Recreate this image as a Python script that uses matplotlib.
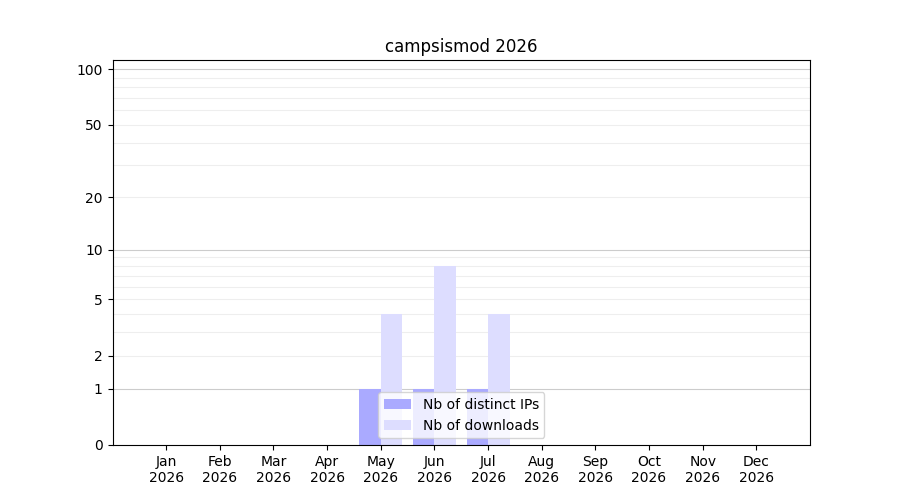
import matplotlib
matplotlib.use("Agg")
import matplotlib.pyplot as plt
import numpy as np

months = ["Jan\n2026", "Feb\n2026", "Mar\n2026", "Apr\n2026", "May\n2026", "Jun\n2026",
          "Jul\n2026", "Aug\n2026", "Sep\n2026", "Oct\n2026", "Nov\n2026", "Dec\n2026"]
distinct_ips = [0, 0, 0, 0, 1, 1, 1, 0, 0, 0, 0, 0]
downloads = [0, 0, 0, 0, 4, 8, 4, 0, 0, 0, 0, 0]
ytick_vals = [0, 1, 2, 5, 10, 20, 50, 100]

fig, ax = plt.subplots(figsize=(9, 5), dpi=100)

fwd = lambda v: np.log10(1 + np.maximum(v, 0))
inv = lambda v: 10 ** v - 1
ax.set_yscale("function", functions=(fwd, inv))

x = np.arange(1, len(months) + 1)
ax.bar(x - 0.2, distinct_ips, width=0.4, color="#aaaaff", label="Nb of distinct IPs", zorder=2)
ax.bar(x + 0.2, downloads, width=0.4, color="#ddddff", label="Nb of downloads", zorder=2)

for v in [3, 4, 6, 7, 8, 9, 2, 5, 20, 30, 40, 50, 60, 70, 80, 90]:
    ax.axhline(v, color="#eeeeee", linewidth=0.8, zorder=0)
for v in [1, 10, 100]:
    ax.axhline(v, color="#cccccc", linewidth=0.8, zorder=0)

ax.set_ylim(0, 112)
ax.set_xlim(0, 13)
ax.set_yticks(ytick_vals)
ax.set_yticklabels([str(v) for v in ytick_vals])
ax.minorticks_off()
ax.set_xticks(x)
ax.set_xticklabels(months)
ax.set_title("campsismod 2026")
ax.legend(loc="lower center")

fig.savefig("out.png", dpi=100)
